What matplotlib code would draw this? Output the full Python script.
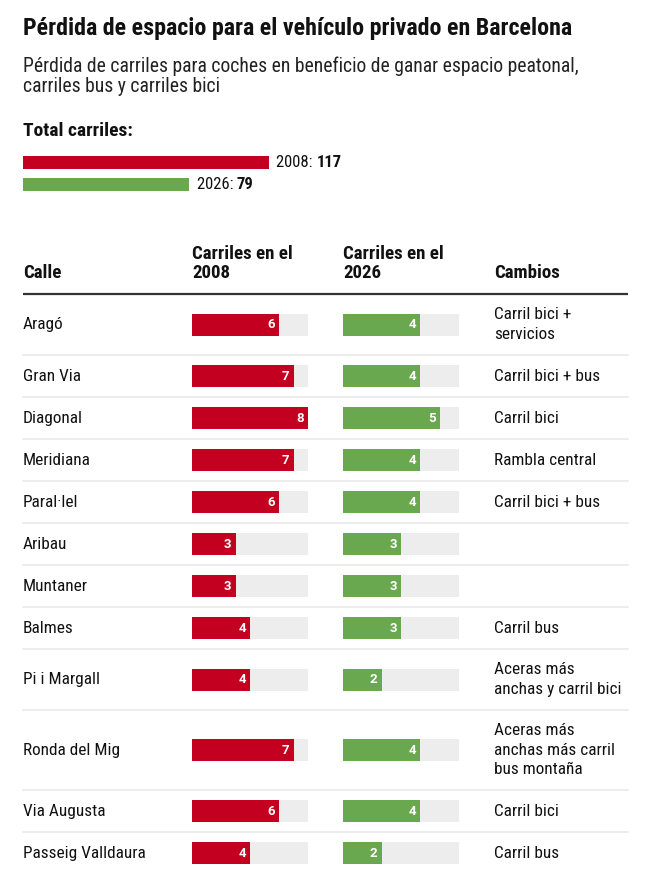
import matplotlib
matplotlib.use('Agg')
import matplotlib.pyplot as plt

# ---------------- data ----------------
streets = ["Aragó", "Gran Via", "Diagonal", "Meridiana", "Paral·lel", "Aribau",
           "Muntaner", "Balmes", "Pi i Margall", "Ronda del Mig", "Via Augusta",
           "Passeig Valldaura"]
lanes_2008 = [6, 7, 8, 7, 6, 3, 3, 4, 4, 7, 6, 4]
lanes_2026 = [4, 4, 5, 4, 4, 3, 3, 3, 2, 4, 4, 2]
changes = ["Carril bici +\nservicios", "Carril bici + bus", "Carril bici",
           "Rambla central", "Carril bici + bus", "", "", "Carril bus",
           "Aceras más\nanchas y carril bici",
           "Aceras más\nanchas más carril\nbus montaña",
           "Carril bici", "Carril bus"]
total_years = ["2008", "2026"]
total_values = [117, 79]
scale_max_2008 = 8
scale_max_2026 = 6

# ---------------- style ----------------
RED = "#c3001f"
GREEN = "#6aa84f"
BG = "#ededed"
SEP = "#e8e8e8"
TXT = "#111111"
plt.rcParams['font.family'] = ['Roboto Condensed', 'Roboto', 'DejaVu Sans']

W, H = 652, 871
fig = plt.figure(figsize=(W / 100, H / 100), dpi=100)
fig.patch.set_facecolor('white')
ax = fig.add_axes([0, 0, 1, 1])
ax.set_xlim(0, W)
ax.set_ylim(H, 0)
ax.axis('off')


def col_axes(x0, width, xmax):
    a = fig.add_axes([x0 / W, 0, width / W, 1])
    a.set_xlim(0, xmax)
    a.set_ylim(H, 0)
    a.axis('off')
    a.patch.set_alpha(0)
    return a


LEFT = 23
BODY = 12.4
# title / subtitle
ax.text(LEFT, 28, "Pérdida de espacio para el vehículo privado en Barcelona",
        fontsize=17.3, fontweight='bold', color=TXT, va='center', ha='left')
ax.text(LEFT, 66, "Pérdida de carriles para coches en beneficio de ganar espacio peatonal,",
        fontsize=14.1, color='#222222', va='center', ha='left')
ax.text(LEFT, 87, "carriles bus y carriles bici",
        fontsize=14.1, color='#222222', va='center', ha='left')
ax.text(LEFT, 131, "Total carriles:", fontsize=14, fontweight='bold',
        color=TXT, va='center', ha='left')

# total bars
px_per_unit = 2.1
ax_tot = col_axes(LEFT, W - LEFT, (W - LEFT) / px_per_unit)
tot_y = [162.5, 184.5]
for yr, val, yc, c in zip(total_years, total_values, tot_y, [RED, GREEN]):
    ax_tot.barh(yc, val, height=13, color=c, left=0)
    t = ax_tot.annotate(f"{yr}: ", xy=(val, yc), xytext=(5.5, 0),
                        textcoords='offset points', ha='left', va='center',
                        fontsize=12, color=TXT)
    ax_tot.annotate(f"{val}", xy=(1, 0), xycoords=t, ha='left', va='bottom',
                    fontsize=12, fontweight='bold', color=TXT)

# header
X08, X26, XCH = 192, 343, 494
BAR_W = 116
hdr_kw = dict(fontsize=13.6, fontweight='bold', color=TXT, va='center', ha='left')
ax.text(LEFT, 273, "Calle", **hdr_kw)
ax.text(X08, 254, "Carriles en el", **hdr_kw)
ax.text(X08, 273, "2008", **hdr_kw)
ax.text(X26, 254, "Carriles en el", **hdr_kw)
ax.text(X26, 273, "2026", **hdr_kw)
ax.text(XCH, 273, "Cambios", **hdr_kw)
ax.plot([LEFT, 628], [294, 294], color='#333333', lw=1.6, solid_capstyle='butt')

ax08 = col_axes(X08, BAR_W, scale_max_2008)
ax26 = col_axes(X26, BAR_W, scale_max_2026)

top = 294
for i, (s, v8, v26, ch) in enumerate(zip(streets, lanes_2008, lanes_2026, changes)):
    nlines = max(1, ch.count("\n") + 1)
    h = 42 + 19 * (nlines - 1)
    yc = top + h / 2
    ax.text(LEFT, yc, s, fontsize=BODY, color=TXT, va='center', ha='left')
    if ch:
        ax.text(XCH, yc, ch, fontsize=BODY, color=TXT, va='center', ha='left',
                linespacing=1.4)
    for a, v, mx, c in [(ax08, v8, scale_max_2008, RED), (ax26, v26, scale_max_2026, GREEN)]:
        a.barh(yc, mx, height=22, color=BG)
        a.barh(yc, v, height=22, color=c)
        a.annotate(str(v), xy=(v, yc), xytext=(-3, 0), textcoords='offset points',
                   ha='right', va='center', fontsize=9.5, fontweight='bold',
                   color='white', family=['Roboto', 'DejaVu Sans'])
    top += h
    if i < len(streets) - 1:
        ax.plot([LEFT, 628], [top, top], color=SEP, lw=1.1)

fig.savefig("out.png", dpi=100, facecolor='white')
